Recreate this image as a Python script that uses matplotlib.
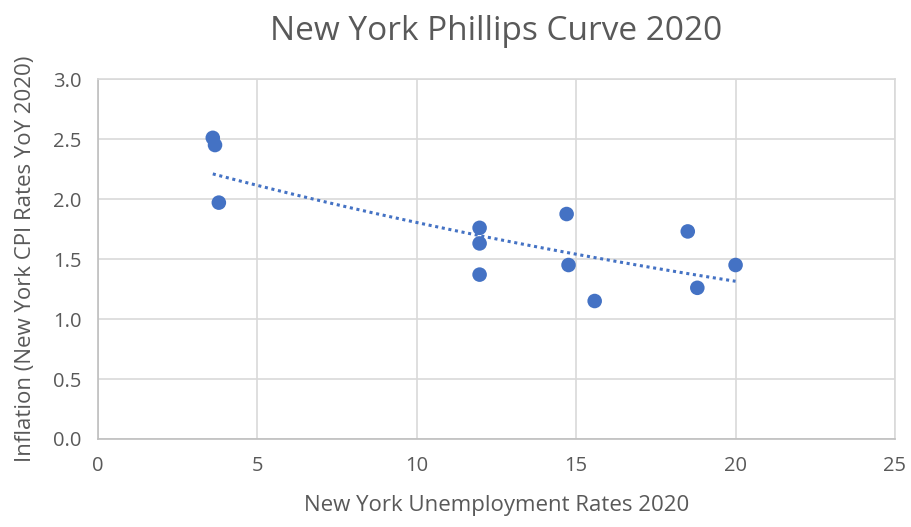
import numpy as np
import matplotlib
matplotlib.use("Agg")
import matplotlib.pyplot as plt

# Unemployment rate vs CPI inflation, New York 2020
unemployment = [3.6, 3.67, 3.79, 11.97, 11.97, 11.97, 14.7, 14.76, 15.58, 18.5, 18.8, 20.0]
inflation = [2.51, 2.45, 1.97, 1.76, 1.63, 1.37, 1.875, 1.45, 1.15, 1.73, 1.26, 1.45]

x = np.array(unemployment)
y = np.array(inflation)

plt.rcParams['font.family'] = ['Open Sans', 'DejaVu Sans']
text_color = '#595959'
grid_color = '#D9D9D9'
dot_color = '#4472C4'

fig = plt.figure(figsize=(9.11, 5.27), dpi=100)
ax = fig.add_axes([0.1076, 0.167, 0.8748, 0.683])

ax.scatter(x, y, s=110, color=dot_color, zorder=3, edgecolors='none')

# exponential trendline (as Excel does)
b, ln_a = np.polyfit(x, np.log(y), 1)
xt = np.linspace(x.min(), x.max(), 100)
ax.plot(xt, np.exp(ln_a) * np.exp(b * xt), color=dot_color, linestyle=(0, (1, 1.2)),
        linewidth=2.2, zorder=2)

ax.set_xlim(0, 25)
ax.set_ylim(0, 3.0)
ax.set_xticks(range(0, 26, 5))
ax.set_yticks(np.arange(0, 3.01, 0.5))
ax.set_yticklabels([f'{v:.1f}' for v in np.arange(0, 3.01, 0.5)])
ax.grid(True, color=grid_color, linewidth=1.2)
ax.set_axisbelow(True)
for sp in ax.spines.values():
    sp.set_color(grid_color)
    sp.set_linewidth(1.2)
ax.spines['left'].set_color('#BFBFBF')
ax.spines['bottom'].set_color('#BFBFBF')
ax.tick_params(length=0, labelsize=14.5, labelcolor=text_color, pad=12)

ax.set_title('New York Phillips Curve 2020', fontsize=24, color=text_color, pad=28)
ax.set_xlabel('New York Unemployment Rates 2020', fontsize=16, color=text_color, labelpad=14)
ax.set_ylabel('Inflation (New York CPI Rates YoY 2020)', fontsize=16, color=text_color, labelpad=12)

fig.savefig('out.png', dpi=100)
